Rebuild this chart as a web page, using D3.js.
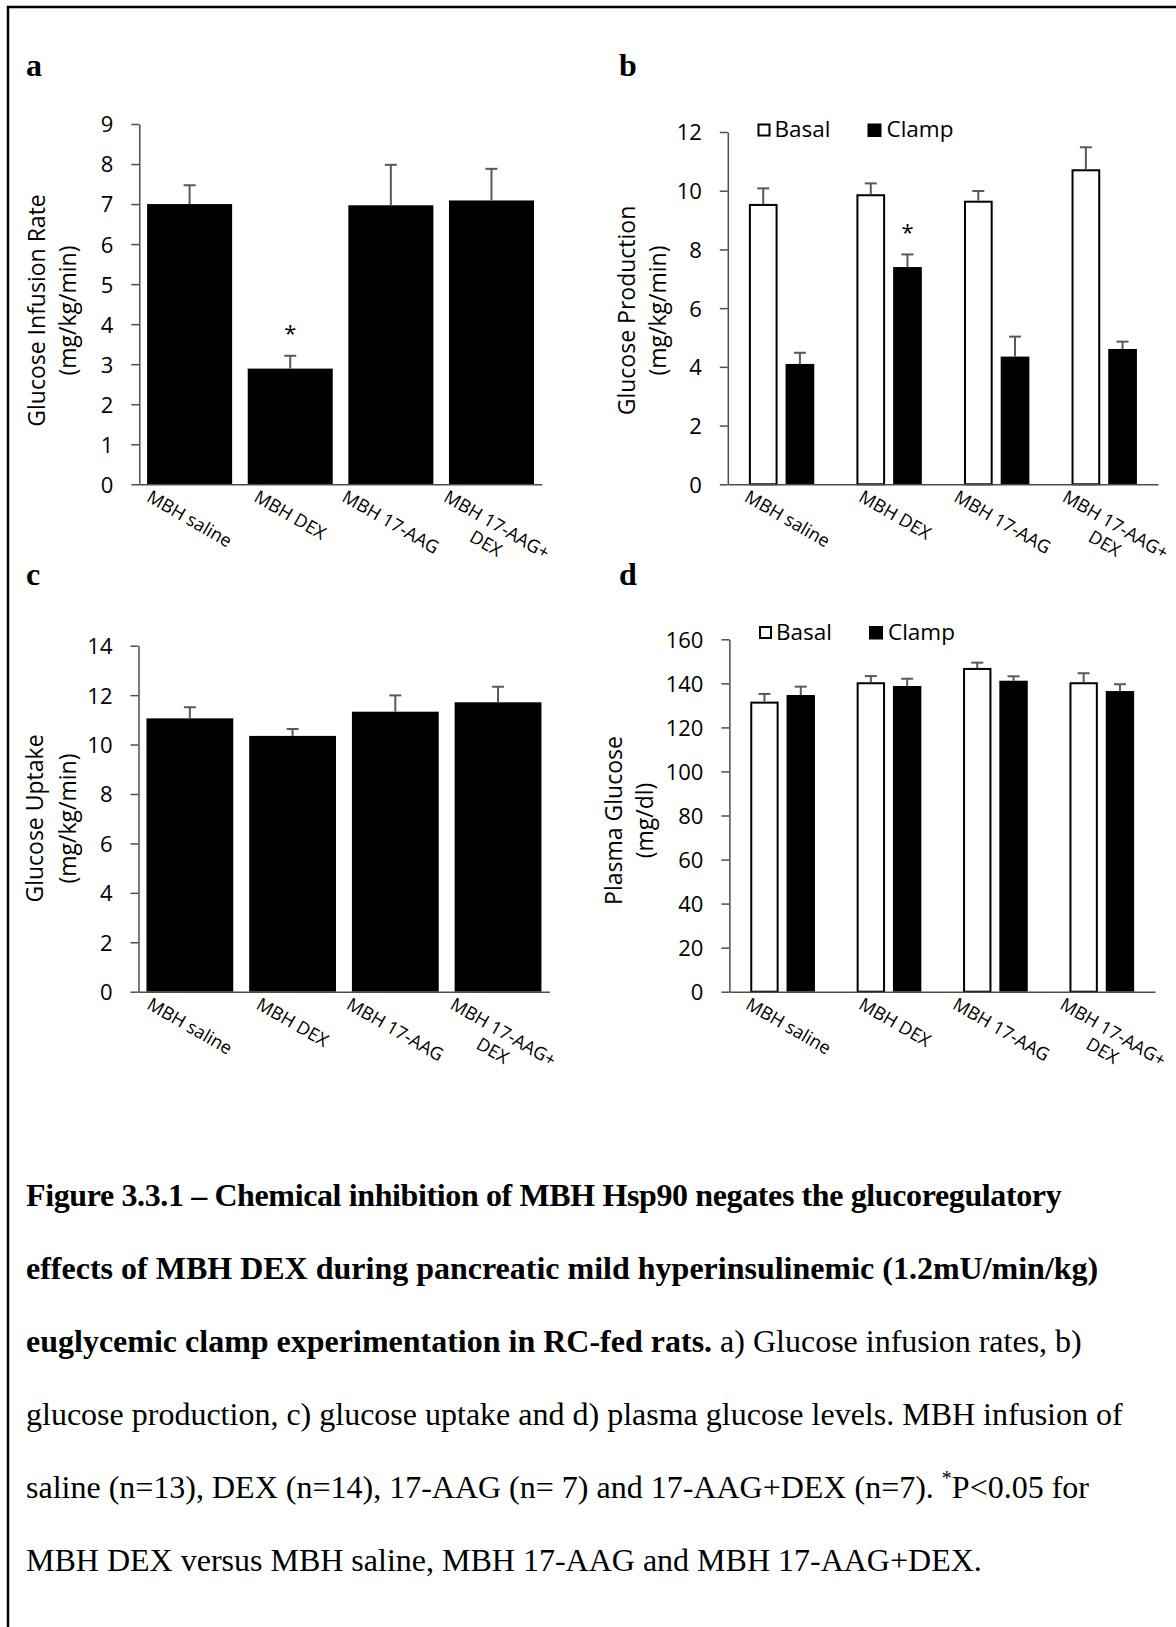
<!DOCTYPE html>
<html>
<head>
<meta charset="utf-8">
<script src="https://cdn.jsdelivr.net/npm/d3@7"></script>
<style>
  html, body { margin: 0; padding: 0; background: #fff; }
  svg { display: block; }
</style>
</head>
<body>
<svg id="fig" width="1176" height="1627"></svg>
<script>
// ---- data -------------------------------------------------------------
const groups = ["MBH saline", "MBH DEX", "MBH 17-AAG", "MBH 17-AAG+DEX"];
const groupLabels = [["MBH saline"], ["MBH DEX"], ["MBH 17-AAG"], ["MBH 17-AAG+", "DEX"]];
const seriesNames = ["Basal", "Clamp"];

// a) glucose infusion rate (mg/kg/min), mean and SEM
const infusionRate    = [7.00, 2.89, 6.97, 7.09];
const infusionRateSem = [0.47, 0.32, 1.01, 0.79];

// b) glucose production (mg/kg/min)
const productionBasal    = [9.55, 9.88, 9.66, 10.73];
const productionBasalSem = [0.53, 0.37, 0.33, 0.75];
const productionClamp    = [4.10, 7.40, 4.35, 4.61];
const productionClampSem = [0.38, 0.43, 0.68, 0.25];

// c) glucose uptake (mg/kg/min)
const uptake    = [11.06, 10.35, 11.33, 11.71];
const uptakeSem = [0.45, 0.28, 0.66, 0.63];

// d) plasma glucose (mg/dl)
const plasmaBasal    = [131.7, 140.5, 147.0, 140.5];
const plasmaBasalSem = [3.5, 2.8, 2.4, 4.1];
const plasmaClamp    = [134.7, 138.8, 141.2, 136.5];
const plasmaClampSem = [3.8, 3.3, 2.0, 3.1];

// axis ticks
const ticksA = [0, 1, 2, 3, 4, 5, 6, 7, 8, 9];
const ticksB = [0, 2, 4, 6, 8, 10, 12];
const ticksC = [0, 2, 4, 6, 8, 10, 12, 14];
const ticksD = [0, 20, 40, 60, 80, 100, 120, 140, 160];

// group marked significant (*P<0.05)
const significantGroup = "MBH DEX";

const captionLines = [
  [{ t: "Figure 3.3.1 \u2013 Chemical inhibition of MBH Hsp90 negates the glucoregulatory", b: true }],
  [{ t: "effects of MBH DEX during pancreatic mild hyperinsulinemic (1.2mU/min/kg)", b: true }],
  [{ t: "euglycemic clamp experimentation in RC-fed rats.", b: true }, { t: " a) Glucose infusion rates, b)" }],
  [{ t: "glucose production, c) glucose uptake and d) plasma glucose levels. MBH infusion of" }],
  [{ t: "saline (n=13), DEX (n=14), 17-AAG (n= 7) and 17-AAG+DEX (n=7). " }, { t: "*", sup: true }, { t: "P<0.05 for" }],
  [{ t: "MBH DEX versus MBH saline, MBH 17-AAG and MBH 17-AAG+DEX." }]
];

// ---- drawing ----------------------------------------------------------
const svg = d3.select("#fig");
const SANS = "'Open Sans', 'Noto Sans', sans-serif";
const SERIF = "'Liberation Serif', 'Times New Roman', serif";
const AXIS_COLOR = "#4d4d4d";
const ERR_COLOR = "#595959";

svg.append("rect").attr("width", 1176).attr("height", 1627).attr("fill", "#fff");

// page frame
svg.append("line").attr("x1", 7).attr("x2", 1176).attr("y1", 7).attr("y2", 7)
  .attr("stroke", "#000").attr("stroke-width", 2.5);
svg.append("line").attr("x1", 8).attr("x2", 8).attr("y1", 6).attr("y2", 1627)
  .attr("stroke", "#000").attr("stroke-width", 2.5);

function drawPanel(p) {
  const g = svg.append("g").attr("font-family", SANS);

  const y = d3.scaleLinear().domain([0, p.max]).range([p.y0, p.y1]);
  const x = d3.scaleBand().domain(groups).range([p.x0, p.x1])
    .paddingInner(p.pad).paddingOuter(p.pad / 2);
  const sub = d3.scaleBand().domain(p.series.map(s => s.name))
    .range([0, x.bandwidth()]).paddingInner(p.subPad || 0);

  // bars
  p.series.forEach(s => {
    const sw = s.outline ? 2 : 0;
    const bw = sub.bandwidth();
    g.append("g").selectAll("rect").data(s.values).join("rect")
      .attr("x", (d, i) => x(groups[i]) + sub(s.name) + sw / 2)
      .attr("width", bw - sw)
      .attr("y", d => y(d) + sw / 2)
      .attr("height", d => y(0) - y(d) - sw / 2)
      .attr("fill", s.outline ? "#fff" : "#000")
      .attr("stroke", s.outline ? "#000" : "none")
      .attr("stroke-width", sw);

    // upper error bars
    const eg = g.append("g").attr("stroke", ERR_COLOR).attr("stroke-width", 2);
    s.values.forEach((v, i) => {
      const cx = x(groups[i]) + sub(s.name) + bw / 2;
      const top = y(v + s.sem[i]);
      eg.append("line").attr("x1", cx).attr("x2", cx).attr("y1", y(v)).attr("y2", top);
      eg.append("line").attr("x1", cx - 6).attr("x2", cx + 6).attr("y1", top).attr("y2", top);
    });

    // significance marker
    if (s.star) {
      const i = groups.indexOf(significantGroup);
      const cx = x(groups[i]) + sub(s.name) + bw / 2;
      g.append("text").attr("x", cx).attr("y", y(s.values[i] + s.sem[i]) - 27 + 12.5)
        .attr("text-anchor", "middle").attr("font-size", 22).attr("fill", "#000").text("*");
    }
  });

  // y axis
  const ya = g.append("g").attr("transform", `translate(${p.x0},0)`)
    .call(d3.axisLeft(y).tickValues(p.ticks).tickSize(8).tickSizeOuter(0).tickPadding(18));
  ya.select(".domain").attr("stroke", AXIS_COLOR).attr("stroke-width", 1.5);
  ya.selectAll(".tick line").attr("stroke", AXIS_COLOR).attr("stroke-width", 1.5);
  ya.selectAll(".tick text").attr("font-family", SANS).attr("font-size", 22)
    .attr("fill", "#000").attr("dy", "0.36em");

  // x axis (line only; labels drawn rotated below)
  const xa = g.append("g").attr("transform", `translate(0,${p.y0})`)
    .call(d3.axisBottom(x).tickSize(0).tickSizeOuter(0).tickFormat(""));
  xa.select(".domain").attr("stroke", AXIS_COLOR).attr("stroke-width", 1.5);

  // rotated category labels
  const fs = 18, lh = fs * 1.2, cap = fs * 0.714;
  groupLabels.forEach((lines, i) => {
    const cx = x(groups[i]) + x.bandwidth() / 2 + (p.labelShift || 0);
    const t = g.append("text").attr("font-size", fs).attr("text-anchor", "middle").attr("fill", "#000");
    lines.forEach((ln, j) => t.append("tspan").attr("x", 0)
      .attr("y", (j - (lines.length - 1) / 2) * lh).attr("dy", "0.36em").text(ln));
    const w = d3.max(t.selectAll("tspan").nodes(), n => n.getComputedTextLength());
    const H = (lines.length - 1) * lh + cap;
    const cy = p.y0 + 5 + 0.25 * w + 0.433 * H;
    t.attr("transform", `translate(${cx},${cy}) rotate(30)`);
  });

  // y title (two lines)
  p.title.forEach((ln, j) => {
    g.append("text")
      .attr("transform", `translate(${p.x0 - p.titleOff[j]},${p.titleY}) rotate(-90)`)
      .attr("text-anchor", "middle").attr("font-size", 23).attr("fill", "#000").text(ln);
  });

  // legend
  if (p.legend) {
    const L = p.legend;
    g.append("rect").attr("x", L.x + 1).attr("y", L.y + 1).attr("width", 11).attr("height", 11)
      .attr("fill", "#fff").attr("stroke", "#000").attr("stroke-width", 2);
    g.append("text").attr("x", L.x + 17).attr("y", L.y + 13.5).attr("font-size", 22.5)
      .attr("fill", "#000").text(seriesNames[0]);
    g.append("rect").attr("x", L.x + 110).attr("y", L.y).attr("width", 14).attr("height", 13.5)
      .attr("fill", "#000");
    g.append("text").attr("x", L.x + 129).attr("y", L.y + 13.5).attr("font-size", 22.5)
      .attr("fill", "#000").text(seriesNames[1]);
  }

  // panel letter
  svg.append("text").attr("x", p.letterX).attr("y", p.letterY)
    .attr("font-family", SERIF).attr("font-weight", "bold").attr("font-size", 32)
    .attr("fill", "#000").text(p.letter);
}

drawPanel({
  letter: "a", letterX: 26, letterY: 76,
  x0: 139.3, x1: 541.8, y0: 484.3, y1: 124, max: 9, ticks: ticksA, pad: 0.155,
  series: [{ name: "GIR", values: infusionRate, sem: infusionRateSem, star: true }],
  title: ["Glucose Infusion Rate", "(mg/kg/min)"], titleOff: [94, 63], titleY: 310.5
});

drawPanel({
  letter: "b", letterX: 619, letterY: 76,
  x0: 727.8, x1: 1158, y0: 484.3, y1: 132, max: 12, ticks: ticksB, pad: 0.392, subPad: 0.218,
  labelShift: 6,
  series: [
    { name: "Basal", values: productionBasal, sem: productionBasalSem, outline: true },
    { name: "Clamp", values: productionClamp, sem: productionClampSem, star: true }
  ],
  title: ["Glucose Production", "(mg/kg/min)"], titleOff: [93, 62], titleY: 310.5,
  legend: { x: 757.5, y: 123.5 }
});

drawPanel({
  letter: "c", letterX: 26, letterY: 585,
  x0: 138.5, x1: 549.4, y0: 991.7, y1: 645.7, max: 14, ticks: ticksC, pad: 0.155,
  series: [{ name: "GU", values: uptake, sem: uptakeSem }],
  title: ["Glucose Uptake", "(mg/kg/min)"], titleOff: [96, 63], titleY: 818.5
});

drawPanel({
  letter: "d", letterX: 619, letterY: 585,
  x0: 729.4, x1: 1155, y0: 991.7, y1: 639.3, max: 160, ticks: ticksD, pad: 0.392, subPad: 0.218,
  labelShift: 6,
  series: [
    { name: "Basal", values: plasmaBasal, sem: plasmaBasalSem, outline: true },
    { name: "Clamp", values: plasmaClamp, sem: plasmaClampSem }
  ],
  title: ["Plasma Glucose", "(mg/dl)"], titleOff: [107, 76], titleY: 820.5,
  legend: { x: 759, y: 626 }
});

// caption
const cap = svg.append("g").attr("font-family", SERIF).attr("font-size", 32).attr("fill", "#000");
captionLines.forEach((parts, i) => {
  const t = cap.append("text").attr("x", 26).attr("y", 1206 + i * 73);
  const supAt = parts.findIndex(q => q.sup);
  parts.forEach((pt, k) => {
    if (pt.sup) {
      t.append("tspan").attr("font-size", 20).attr("dy", -13).text(pt.t);
    } else {
      const s = t.append("tspan").attr("font-weight", pt.b ? "bold" : "normal").text(pt.t);
      if (supAt >= 0 && k === supAt + 1) s.attr("dy", 13);
    }
  });
  // the heading line is set a little tighter
  if (i === 0) {
    const n = t.node().getComputedTextLength();
    t.attr("textLength", n - 28).attr("lengthAdjust", "spacing");
  }
});
</script>
</body>
</html>
